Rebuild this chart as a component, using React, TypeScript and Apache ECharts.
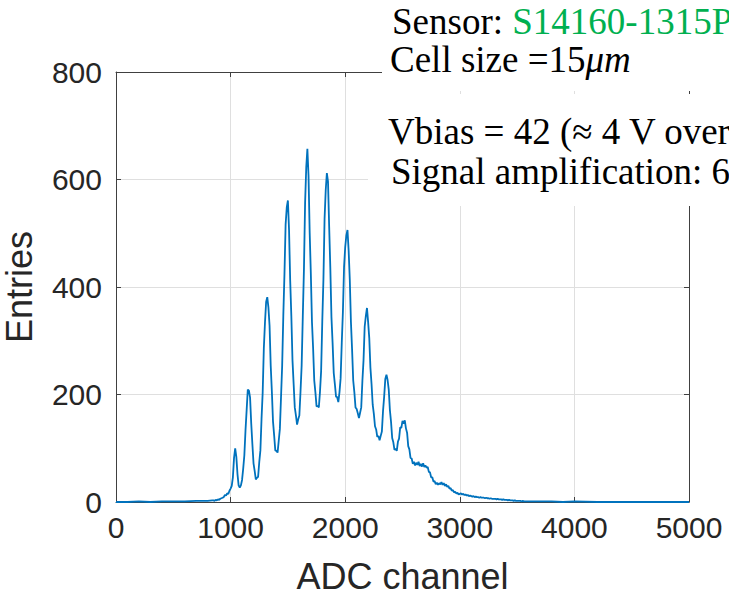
import React, { useEffect, useRef } from "react";
import * as echarts from "echarts";

// ---- Data ----
const xTicks = [0, 1000, 2000, 3000, 4000, 5000];
const yTicks = [0, 200, 400, 600, 800];

// sparse baseline before the spectrum
const baselineAdc = [0, 100, 200, 300, 400, 500, 600, 700, 800, 840];
const baselineEntries = [0, 0, 1, 0, 1, 1, 1, 2, 2, 3];

// dense part of the spectrum: bins of 10 ADC channels starting at 850
const peakRegionStart = 850;
const peakRegionBinWidth = 10;
const peakRegionEntries = [
  3, 2, 4, 3, 5, 4, 6, 7, 8, 9, 13, 12, 16, 15, 21, 25,
  30, 46, 82, 100, 84, 52, 31, 27, 31, 41,
  62, 87, 133, 171, 209, 207, 194, 146, 108, 72,
  58, 42, 45, 47, 74, 96, 155, 204, 286, 334,
  372, 381, 362, 328, 254, 206, 150, 124, 96, 95,
  92, 114, 136, 195, 254, 347, 424, 516, 548, 561,
  506, 412, 346, 264, 220, 176, 161, 144, 154, 161,
  205, 254, 345, 433, 556, 622, 657, 607, 502, 426,
  335, 286, 226, 204, 178, 179, 176, 205, 244, 336,
  414, 527, 580, 612, 596, 513, 437, 344, 296, 240,
  219, 196, 195, 186, 204, 230, 296, 354, 437, 474,
  496, 506, 468, 414, 335, 284, 226, 204, 176, 173,
  165, 156, 166, 176, 225, 264, 326, 346, 361, 335,
  305, 250, 219, 181, 164, 141, 135, 121, 123, 115,
  123, 131, 169, 196, 229, 237, 227, 209, 171, 149,
  119, 111, 97, 99, 95, 112, 118, 139, 138, 151,
  146, 152, 137, 129, 104, 98, 82, 81, 71, 75,
  68, 73, 69, 75, 67, 71, 66, 72, 65, 68,
  64, 65, 56, 55, 46, 46, 38, 39, 33, 36,
  32, 35, 33, 37, 32, 35, 30, 33, 28, 30,
  25, 26, 21, 22, 18, 19, 16, 17, 14, 15,
  16, 14, 15, 13, 14, 12, 13, 11, 12, 11,
  10, 11, 9, 10, 9, 9, 8, 9, 8, 8,
  8, 7, 8, 7, 7, 6, 7, 6, 6, 6,
  6, 5, 6, 5, 5, 5, 4, 5, 4, 4,
  4, 3, 4, 3, 3, 3, 2, 3, 2, 2,
  2, 2, 2, 1, 2, 1, 1, 1, 1, 1,
];

// sparse tail after the spectrum
const tailAdc = [3700, 3800, 3900, 4000, 4200, 4400, 4600, 4800, 5000];
const tailEntries = [1, 1, 0, 1, 0, 0, 0, 0, 0];

const xAxisName = "ADC channel";
const yAxisName = "Entries";
const sensorLabel = "Sensor: ";
const sensorName = "S14160-1315PS";
const cellSizeLabel = "Cell size =15";
const cellSizeUnit = "μm";
const vbiasText = "Vbias = 42 (≈ 4 V overvoltage)";
const amplificationText = "Signal amplification: 6";

export default function App() {
  const ref = useRef<HTMLDivElement>(null);

  useEffect(() => {
    if (!ref.current) return;
    const chart = echarts.init(ref.current, undefined, { renderer: "svg" });

    const data: [number, number][] = [];
    baselineAdc.forEach((x, i) => data.push([x, baselineEntries[i]]));
    peakRegionEntries.forEach((v, i) =>
      data.push([peakRegionStart + i * peakRegionBinWidth, v])
    );
    tailAdc.forEach((x, i) => data.push([x, tailEntries[i]]));

    const axisColor = "#404040";
    const labelColor = "#262626";
    const sans = "'Liberation Sans', Arial, Helvetica, sans-serif";
    const serif = "'Liberation Serif', 'Times New Roman', serif";
    const textSize = 37;

    const mirrorX = {
      type: "value" as const,
      position: "top" as const,
      min: xTicks[0],
      max: xTicks[xTicks.length - 1],
      interval: 1000,
      axisLine: { show: true, onZero: false, lineStyle: { color: axisColor, width: 1 } },
      axisTick: { show: true, inside: true, length: 5, lineStyle: { color: axisColor } },
      axisLabel: { show: false },
      splitLine: { show: false },
    };
    const mirrorY = {
      type: "value" as const,
      position: "right" as const,
      min: yTicks[0],
      max: yTicks[yTicks.length - 1],
      interval: 200,
      axisLine: { show: true, onZero: false, lineStyle: { color: axisColor, width: 1 } },
      axisTick: { show: true, inside: true, length: 5, lineStyle: { color: axisColor } },
      axisLabel: { show: false },
      splitLine: { show: false },
    };

    chart.setOption({
      animation: false,
      backgroundColor: "#ffffff",
      grid: {
        left: 116,
        top: 72,
        right: 40,
        bottom: 94,
        containLabel: false,
        outerBoundsMode: "none",
      },
      xAxis: [
        {
          type: "value",
          position: "bottom",
          min: xTicks[0],
          max: xTicks[xTicks.length - 1],
          interval: 1000,
          name: xAxisName,
          nameLocation: "middle",
          nameGap: 56,
          nameTextStyle: { fontFamily: sans, fontSize: 36, color: labelColor },
          axisLine: { show: true, onZero: false, lineStyle: { color: axisColor, width: 1 } },
          axisTick: { show: true, inside: true, length: 5, lineStyle: { color: axisColor } },
          axisLabel: {
            fontFamily: sans,
            fontSize: 30,
            color: labelColor,
            margin: 10,
            formatter: (v: number) => String(v),
          },
          splitLine: { show: true, lineStyle: { color: "#dfdfdf", width: 1 } },
        },
        mirrorX,
      ],
      yAxis: [
        {
          type: "value",
          position: "left",
          min: yTicks[0],
          max: yTicks[yTicks.length - 1],
          interval: 200,
          name: yAxisName,
          nameLocation: "middle",
          nameRotate: 90,
          nameGap: 79,
          nameTextStyle: { fontFamily: sans, fontSize: 36, color: labelColor },
          axisLine: { show: true, onZero: false, lineStyle: { color: axisColor, width: 1 } },
          axisTick: { show: true, inside: true, length: 5, lineStyle: { color: axisColor } },
          axisLabel: {
            fontFamily: sans,
            fontSize: 30,
            color: labelColor,
            margin: 14,
            formatter: (v: number) => String(v),
          },
          splitLine: { show: true, lineStyle: { color: "#dfdfdf", width: 1 } },
        },
        mirrorY,
      ],
      series: [
        {
          type: "line",
          data,
          xAxisIndex: 0,
          yAxisIndex: 0,
          showSymbol: false,
          symbol: "none",
          lineStyle: { color: "#0072BD", width: 1.8 },
          z: 5,
        },
      ],
      graphic: [
        {
          type: "rect",
          z: 100,
          shape: { x: 382, y: 0, width: 347, height: 91 },
          style: { fill: "#ffffff" },
        },
        {
          type: "rect",
          z: 100,
          shape: { x: 368, y: 94, width: 361, height: 112 },
          style: { fill: "#ffffff" },
        },
        {
          type: "text",
          z: 101,
          x: 392,
          y: 21,
          style: {
            text: `{b|${sensorLabel}}{g|${sensorName}}`,
            verticalAlign: "middle",
            rich: {
              b: { fontFamily: serif, fontSize: textSize, fill: "#000000" },
              g: { fontFamily: serif, fontSize: textSize, fill: "#00B050" },
            },
          },
        },
        {
          type: "text",
          z: 101,
          x: 390,
          y: 59,
          style: {
            text: `{b|${cellSizeLabel}}{i|${cellSizeUnit}}`,
            verticalAlign: "middle",
            rich: {
              b: { fontFamily: serif, fontSize: textSize, fill: "#000000" },
              i: { fontFamily: serif, fontSize: textSize, fontStyle: "italic", fill: "#000000" },
            },
          },
        },
        {
          type: "text",
          z: 101,
          x: 388,
          y: 131,
          style: {
            text: vbiasText,
            font: `${textSize}px ${serif}`,
            fill: "#000000",
            verticalAlign: "middle",
          },
        },
        {
          type: "text",
          z: 101,
          x: 391,
          y: 171,
          style: {
            text: amplificationText,
            font: `${textSize}px ${serif}`,
            fill: "#000000",
            verticalAlign: "middle",
          },
        },
      ],
    });

    return () => chart.dispose();
  }, []);

  return (
    <div
      ref={ref}
      style={{ position: "absolute", left: 0, top: 0, width: 729, height: 596 }}
    />
  );
}
